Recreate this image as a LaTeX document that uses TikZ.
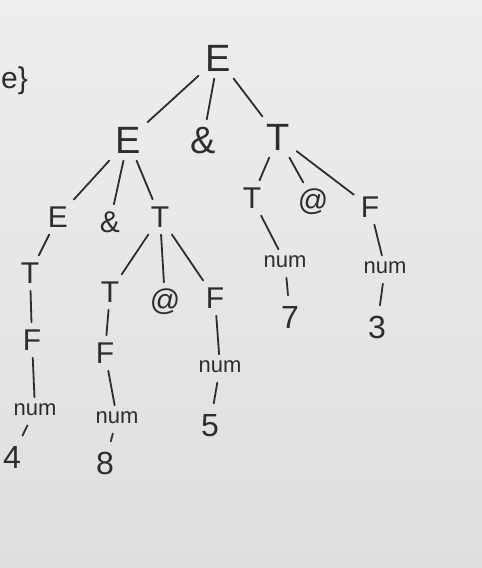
\documentclass[tikz,border=0pt]{standalone}
\usepackage{fontspec}
\setmainfont{Liberation Sans}
\definecolor{ink}{RGB}{45,45,45}
\begin{document}
\begin{tikzpicture}[x=1pt,y=-1pt,
  big/.style={font=\fontsize{38}{40}\selectfont, text=ink, text height=27pt, text depth=0pt, inner sep=6pt},
  mid/.style={font=\fontsize{30}{32}\selectfont, text=ink, text height=21pt, text depth=0pt, inner sep=6pt},
  nm/.style={font=\fontsize{22}{24}\selectfont, text=ink, text height=11pt, text depth=0pt, inner sep=6pt},
  dig/.style={font=\fontsize{32}{34}\selectfont, text=ink, text height=23pt, text depth=0pt, inner sep=6pt},
  edge/.style={draw=ink, line width=1.8pt, line cap=round, shorten <=1pt, shorten >=1pt},
  tick/.style={draw=ink, line width=1.8pt, line cap=round, shorten <=4pt, shorten >=4pt}]
\shade[top color={rgb,255:red,238;green,238;blue,238}, bottom color={rgb,255:red,222;green,222;blue,222}] (0,0) rectangle (482,568);
\useasboundingbox (0,0) rectangle (482,568);
\node[mid, anchor=west, inner sep=1pt] (frag) at (0,78) {e\}};
\node[big] (E0) at (218,58) {E};
\node[big] (E1) at (128,140) {E};
\node[big] (A1) at (203,140) {\&};
\node[big] (T1) at (278,137) {T};
\node[mid] (E2) at (58,217) {E};
\node[mid] (A2) at (110,222) {\&};
\node[mid] (T2) at (160,217) {T};
\node[mid] (T5) at (252,198) {T};
\node[mid] (At1) at (313,200) {@};
\node[mid] (F1) at (370,207) {F};
\node[mid] (T3) at (30,273) {T};
\node[mid] (F4) at (32,340) {F};
\node[nm] (n4) at (35,410) {num};
\node[dig] (d4) at (12,457) {4};
\node[mid] (T4) at (110,292) {T};
\node[mid] (At2) at (165,300) {@};
\node[mid] (F2) at (215,298) {F};
\node[mid] (F3) at (105,353) {F};
\node[nm] (n8) at (117,418) {num};
\node[dig] (d8) at (105,463) {8};
\node[nm] (n5) at (220,367) {num};
\node[dig] (d5) at (210,425) {5};
\node[nm] (n7) at (285,262) {num};
\node[dig] (d7) at (290,317) {7};
\node[nm] (n3) at (385,268) {num};
\node[dig] (d3) at (377,327) {3};
\draw[edge] (E0) -- (E1);
\draw[edge] (E0) -- (A1);
\draw[edge] (E0) -- (T1);
\draw[edge] (E1) -- (E2);
\draw[edge] (E1) -- (A2);
\draw[edge] (E1) -- (T2);
\draw[edge] (T1) -- (T5);
\draw[edge] (T1) -- (At1);
\draw[edge] (T1) -- (F1);
\draw[edge] (E2) -- (T3);
\draw[edge] (T3) -- (F4);
\draw[edge] (F4) -- (n4);
\draw[tick] (n4) -- (d4);
\draw[edge] (T2) -- (T4);
\draw[edge] (T2) -- (At2);
\draw[edge] (T2) -- (F2);
\draw[edge] (T4) -- (F3);
\draw[edge] (F3) -- (n8);
\draw[tick] (n8) -- (d8);
\draw[edge] (F2) -- (n5);
\draw[tick] (n5) -- (d5);
\draw[edge] (T5) -- (n7);
\draw[tick] (n7) -- (d7);
\draw[edge] (F1) -- (n3);
\draw[tick] (n3) -- (d3);
\end{tikzpicture}
\end{document}
